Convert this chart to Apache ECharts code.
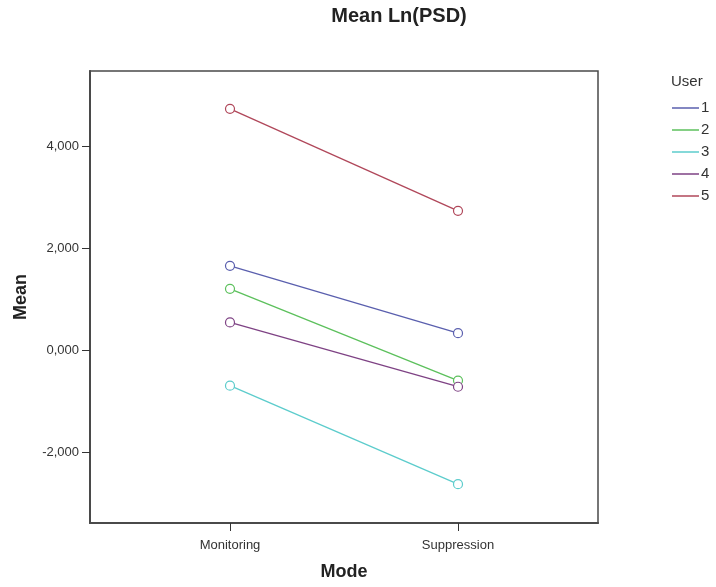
<!DOCTYPE html>
<html>
<head>
<meta charset="utf-8">
<script src="https://cdn.jsdelivr.net/npm/echarts@6/dist/echarts.min.js"></script>
<style>
  html, body { margin: 0; padding: 0; background: #fff; }
  #chart { width: 716px; height: 587px; }
</style>
</head>
<body>
<div id="chart"></div>
<script>
// Mean Ln(PSD) per user, by mode
const modes = ['Monitoring', 'Suppression'];
const users = ['1', '2', '3', '4', '5'];
const user1 = [1.65, 0.33];
const user2 = [1.20, -0.60];
const user3 = [-0.70, -2.63];
const user4 = [0.54, -0.72];
const user5 = [4.73, 2.73];
const yTicks = [-2, 0, 2, 4];

const seriesValues = [user1, user2, user3, user4, user5];
const colors = ['#5a5fae', '#5cc05c', '#5ccccc', '#7e4284', '#b0475a'];

const font = 'Liberation Sans, Arial, sans-serif';

const chart = echarts.init(document.getElementById('chart'), null, { renderer: 'canvas' });

const series = users.map((u, i) => ({
  name: u,
  type: 'line',
  data: seriesValues[i].map((v, j) => [j, v]),
  symbol: 'circle',
  symbolSize: 9,
  lineStyle: { color: colors[i], width: 1.3 },
  itemStyle: { color: '#fff', borderColor: colors[i], borderWidth: 1.2 },
  emphasis: { disabled: true },
  z: 3
}));

chart.setOption({
  animation: false,
  backgroundColor: '#fff',
  title: {
    text: 'Mean Ln(PSD)',
    left: 394,
    top: 1,
    textAlign: 'center',
    textStyle: { fontFamily: font, fontSize: 20, fontWeight: 'bold', color: '#222' }
  },
  graphic: [{
    type: 'text',
    left: 671,
    top: 74,
    style: { text: 'User', font: '15px ' + font, fill: '#333' }
  }],
  legend: {
    orient: 'vertical',
    left: 667,
    top: 92,
    data: users.map((u, i) => ({ name: u, icon: 'rect', itemStyle: { color: colors[i], borderWidth: 0 } })),
    itemWidth: 27,
    itemHeight: 1.5,
    itemGap: 0,
    textStyle: { fontFamily: font, fontSize: 15, color: '#333', lineHeight: 22, padding: [0, 0, 0, -3] }
  },
  grid: {
    left: 90, top: 71, right: 118, bottom: 64,
    show: true, borderColor: '#4a4a4a', borderWidth: 1.5, backgroundColor: '#fff'
  },
  xAxis: {
    type: 'value',
    min: -0.614,
    max: 1.614,
    name: 'Mode',
    nameLocation: 'middle',
    nameGap: 40,
    nameTextStyle: { fontFamily: font, fontSize: 18, fontWeight: 'bold', color: '#222' },
    splitLine: { show: false },
    axisLine: { show: true, onZero: false, lineStyle: { color: '#4a4a4a', width: 2 } },
    axisTick: { show: true, customValues: [0, 1], length: 8, inside: false, lineStyle: { color: '#333', width: 1 } },
    axisLabel: {
      customValues: [0, 1],
      formatter: v => modes[Math.round(v)],
      margin: 16,
      fontFamily: font, fontSize: 13, color: '#333'
    }
  },
  yAxis: {
    type: 'value',
    min: -3.392,
    max: 5.471,
    name: 'Mean',
    nameLocation: 'middle',
    nameGap: 60,
    nameTextStyle: { fontFamily: font, fontSize: 18, fontWeight: 'bold', color: '#222' },
    splitLine: { show: false },
    axisLine: { show: true, onZero: false, lineStyle: { color: '#4a4a4a', width: 2 } },
    axisTick: { show: true, customValues: yTicks, length: 8, lineStyle: { color: '#333', width: 1 } },
    axisLabel: {
      customValues: yTicks,
      formatter: v => v.toFixed(3).replace('.', ','),
      margin: 11,
      fontFamily: font, fontSize: 13, color: '#333'
    }
  },
  series: series
});
</script>
</body>
</html>
